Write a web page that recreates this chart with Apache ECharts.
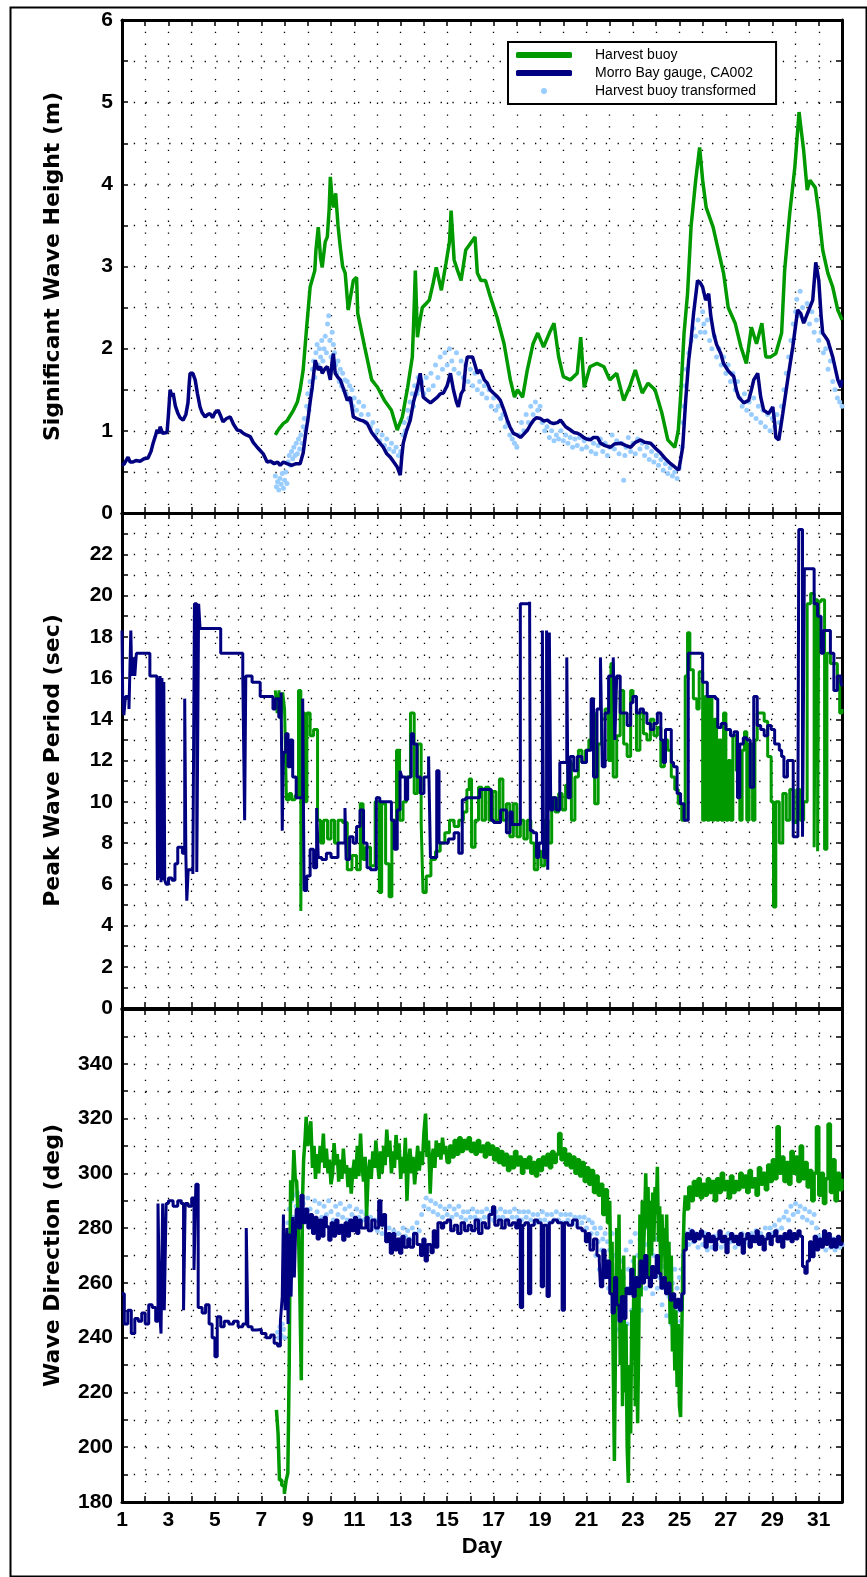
<!DOCTYPE html>
<html>
<head>
<meta charset="utf-8">
<title>Harvest buoy vs Morro Bay gauge</title>
<script src="https://cdn.jsdelivr.net/npm/echarts@6/dist/echarts.min.js"></script>
<style>
  html, body { margin: 0; padding: 0; background: #fff; }
  #chart { width: 867px; height: 1577px; }
</style>
</head>
<body>
<div id="chart"></div>
<script>
// series names as in the legend
const seriesNames = ['Harvest buoy', 'Morro Bay gauge, CA002', 'Harvest buoy transformed'];

// x axis: day of month, labels on odd days
const dayLabels = [1, 3, 5, 7, 9, 11, 13, 15, 17, 19, 21, 23, 25, 27, 29, 31];
// y tick labels of each panel
const hsLabels = [0, 1, 2, 3, 4, 5, 6];
const tpLabels = [0, 2, 4, 6, 8, 10, 12, 14, 16, 18, 20, 22];
const dirLabels = [180, 200, 220, 240, 260, 280, 300, 320, 340];

// --- significant wave height (m), [day, value] ---
const hsHarvest = [[7.6,0.95],[7.75,1.02],[7.95,1.09],[8.1,1.12],[8.38,1.25],[8.55,1.35],[8.67,1.5],[8.8,1.74],[8.95,2.26],[9.1,2.75],[9.3,2.95],[9.35,3.2],[9.45,3.48],[9.55,3.1],[9.62,2.99],[9.75,3.3],[9.84,3.36],[9.92,3.7],[9.97,4.09],[10.05,3.8],[10.1,3.72],[10.2,3.89],[10.3,3.5],[10.4,3.23],[10.5,3.0],[10.61,2.92],[10.74,2.47],[10.85,2.65],[10.96,2.83],[11.1,2.87],[11.15,2.43],[11.45,2.02],[11.75,1.62],[12.0,1.53],[12.3,1.37],[12.6,1.25],[12.85,1.01],[13.07,1.17],[13.3,1.53],[13.5,1.9],[13.55,2.26],[13.63,2.95],[13.72,2.14],[13.8,2.3],[13.93,2.5],[14.1,2.55],[14.23,2.59],[14.4,2.8],[14.53,2.99],[14.75,2.71],[14.95,3.04],[15.1,3.3],[15.17,3.68],[15.3,3.08],[15.45,2.95],[15.6,2.83],[15.8,3.2],[16.0,3.28],[16.2,3.36],[16.3,2.92],[16.45,2.83],[16.65,2.83],[16.86,2.63],[17.15,2.38],[17.45,2.06],[17.72,1.62],[17.9,1.41],[18.03,1.5],[18.25,1.41],[18.45,1.74],[18.7,2.06],[18.9,2.19],[19.15,2.02],[19.4,2.19],[19.6,2.31],[19.8,1.9],[20.0,1.66],[20.3,1.62],[20.6,1.7],[20.75,2.14],[20.9,1.53],[21.15,1.78],[21.45,1.82],[21.75,1.78],[22.0,1.62],[22.3,1.7],[22.6,1.37],[22.85,1.53],[23.1,1.74],[23.4,1.46],[23.65,1.58],[23.95,1.5],[24.25,1.21],[24.5,0.89],[24.8,0.8],[24.95,1.0],[25.05,1.41],[25.2,2.19],[25.35,2.67],[25.5,3.48],[25.7,4.05],[25.87,4.45],[26.0,4.05],[26.15,3.72],[26.45,3.48],[26.65,3.23],[26.9,2.92],[27.1,2.5],[27.4,2.31],[27.65,2.02],[27.88,1.82],[28.1,2.26],[28.32,2.06],[28.55,2.31],[28.72,1.9],[28.93,1.9],[29.15,1.94],[29.4,2.19],[29.53,2.95],[29.75,3.65],[29.97,4.21],[30.15,4.88],[30.35,4.41],[30.5,3.93],[30.62,4.05],[30.85,3.96],[31.0,3.65],[31.17,3.2],[31.39,2.92],[31.6,2.75],[31.82,2.47],[32.0,2.35]];

const hsMorro = [[1.0,0.58],[1.1,0.6],[1.26,0.68],[1.35,0.62],[1.47,0.62],[1.6,0.64],[1.78,0.63],[1.95,0.66],[2.12,0.67],[2.25,0.75],[2.34,0.85],[2.45,0.95],[2.51,1.01],[2.6,0.97],[2.64,1.05],[2.75,0.97],[2.94,0.98],[3.0,1.2],[3.07,1.5],[3.15,1.42],[3.2,1.46],[3.3,1.3],[3.41,1.21],[3.5,1.16],[3.63,1.13],[3.75,1.2],[3.84,1.34],[3.9,1.6],[3.93,1.7],[4.05,1.7],[4.15,1.62],[4.25,1.45],[4.36,1.29],[4.45,1.22],[4.58,1.17],[4.7,1.2],[4.79,1.21],[4.9,1.16],[5.0,1.22],[5.14,1.25],[5.25,1.18],[5.35,1.11],[5.5,1.15],[5.66,1.17],[5.8,1.08],[5.96,1.01],[6.1,1.0],[6.22,0.97],[6.35,0.95],[6.52,0.93],[6.65,0.86],[6.82,0.8],[6.95,0.76],[7.08,0.72],[7.25,0.62],[7.4,0.63],[7.55,0.6],[7.7,0.62],[7.81,0.58],[7.95,0.62],[8.11,0.6],[8.3,0.58],[8.5,0.6],[8.67,0.6],[8.8,0.73],[8.9,0.95],[9.02,1.17],[9.1,1.35],[9.19,1.53],[9.32,1.86],[9.45,1.74],[9.55,1.78],[9.62,1.7],[9.75,1.76],[9.84,1.78],[9.97,1.62],[10.05,1.85],[10.1,1.94],[10.18,1.7],[10.3,1.65],[10.4,1.62],[10.55,1.5],[10.7,1.37],[10.83,1.41],[10.96,1.17],[11.1,1.15],[11.26,1.13],[11.4,1.12],[11.56,1.09],[11.75,0.98],[11.99,0.89],[12.25,0.8],[12.4,0.72],[12.55,0.68],[12.7,0.62],[12.85,0.56],[12.98,0.46],[13.05,0.7],[13.11,0.85],[13.25,1.0],[13.41,1.13],[13.55,1.35],[13.72,1.53],[13.84,1.7],[13.97,1.41],[14.1,1.38],[14.28,1.34],[14.45,1.38],[14.58,1.41],[14.7,1.45],[14.84,1.46],[15.0,1.55],[15.14,1.7],[15.27,1.5],[15.4,1.35],[15.48,1.29],[15.6,1.45],[15.7,1.5],[15.8,1.8],[15.87,1.9],[16.09,1.9],[16.2,1.8],[16.3,1.7],[16.43,1.74],[16.6,1.62],[16.73,1.58],[16.85,1.5],[16.99,1.46],[17.15,1.42],[17.29,1.37],[17.45,1.25],[17.59,1.13],[17.7,1.05],[17.85,0.97],[18.0,0.95],[18.16,0.92],[18.3,0.96],[18.46,1.01],[18.6,1.08],[18.72,1.13],[18.85,1.16],[19.02,1.15],[19.15,1.12],[19.32,1.13],[19.45,1.1],[19.58,1.09],[19.75,1.1],[19.88,1.13],[20.1,1.05],[20.31,1.01],[20.45,0.98],[20.61,0.97],[20.75,0.95],[20.87,0.92],[21.0,0.9],[21.17,0.89],[21.3,0.92],[21.47,0.92],[21.6,0.85],[21.8,0.82],[22.03,0.8],[22.2,0.84],[22.47,0.85],[22.7,0.82],[22.9,0.8],[23.1,0.86],[23.33,0.89],[23.5,0.86],[23.76,0.85],[24.0,0.78],[24.19,0.73],[24.4,0.66],[24.62,0.6],[24.8,0.56],[24.97,0.52],[25.05,0.65],[25.14,0.8],[25.27,1.37],[25.4,1.86],[25.5,2.1],[25.61,2.43],[25.78,2.83],[25.9,2.8],[26.0,2.75],[26.13,2.59],[26.26,2.67],[26.35,2.4],[26.47,2.19],[26.6,2.05],[26.78,1.94],[26.9,1.82],[27.08,1.74],[27.2,1.7],[27.34,1.66],[27.45,1.5],[27.55,1.41],[27.77,1.34],[27.98,1.37],[28.1,1.5],[28.2,1.62],[28.37,1.7],[28.5,1.41],[28.63,1.25],[28.84,1.21],[29.02,1.29],[29.1,1.1],[29.15,0.92],[29.28,0.89],[29.45,1.21],[29.66,1.62],[29.88,2.02],[30.09,2.47],[30.22,2.43],[30.35,2.31],[30.57,2.47],[30.74,2.59],[30.87,3.05],[31.0,2.83],[31.1,2.4],[31.17,2.19],[31.39,2.1],[31.6,1.9],[31.82,1.62],[31.95,1.53],[32.0,1.62]];

const hsTransformed = [[7.6,0.45],[7.65,0.32],[7.7,0.38],[7.75,0.28],[7.8,0.42],[7.85,0.35],[7.9,0.48],[7.95,0.3],[8.0,0.4],[8.05,0.5],[8.1,0.36],[8.15,0.62],[8.2,0.7],[8.25,0.58],[8.3,0.75],[8.35,0.66],[8.4,0.8],[8.45,0.7],[8.5,0.85],[8.55,0.72],[8.6,0.9],[8.65,0.78],[8.7,0.95],[8.75,0.85],[8.8,1.05],[8.85,1.15],[8.9,1.0],[8.95,1.3],[9.0,1.45],[9.05,1.25],[9.1,1.6],[9.15,1.5],[9.2,1.75],[9.25,1.85],[9.3,1.65],[9.35,1.95],[9.4,2.05],[9.45,1.8],[9.5,2.0],[9.55,1.9],[9.6,2.1],[9.65,1.85],[9.7,2.0],[9.75,2.15],[9.8,1.95],[9.85,2.3],[9.9,2.4],[9.95,2.1],[10.0,1.9],[10.05,2.2],[10.1,2.05],[10.15,1.95],[10.2,1.8],[10.25,1.7],[10.3,1.85],[10.35,1.6],[10.4,1.75],[10.45,1.55],[10.5,1.7],[10.55,1.5],[10.6,1.62],[10.65,1.45],[10.7,1.6],[10.75,1.4],[10.8,1.55],[10.85,1.35],[10.9,1.5],[10.95,1.3],[11.0,1.4],[11.1,1.25],[11.2,1.35],[11.3,1.2],[11.4,1.3],[11.5,1.1],[11.6,1.2],[11.7,1.05],[11.8,1.1],[11.9,0.95],[12.0,1.0],[12.1,0.88],[12.2,0.95],[12.3,0.82],[12.4,0.9],[12.5,0.78],[12.6,0.85],[12.7,0.75],[12.8,0.8],[12.9,0.7],[13.0,0.75],[13.1,0.95],[13.15,1.1],[13.2,1.0],[13.3,1.25],[13.35,1.15],[13.4,1.35],[13.5,1.45],[13.55,1.3],[13.6,1.55],[13.7,1.45],[13.75,1.65],[13.8,1.5],[13.9,1.6],[14.0,1.45],[14.1,1.65],[14.2,1.5],[14.3,1.7],[14.4,1.55],[14.5,1.8],[14.6,1.65],[14.7,1.9],[14.8,1.75],[14.9,1.95],[15.0,1.8],[15.1,2.0],[15.2,1.85],[15.3,1.75],[15.4,1.95],[15.5,1.7],[15.6,1.85],[15.7,1.65],[15.8,1.8],[15.9,1.6],[16.0,1.75],[16.1,1.55],[16.2,1.7],[16.3,1.5],[16.4,1.6],[16.5,1.45],[16.6,1.55],[16.7,1.4],[16.8,1.5],[16.9,1.3],[17.0,1.4],[17.1,1.25],[17.2,1.3],[17.3,1.15],[17.4,1.2],[17.5,1.05],[17.6,1.1],[17.7,0.95],[17.8,0.9],[17.9,0.85],[18.0,0.8],[18.1,0.95],[18.2,1.1],[18.3,1.0],[18.4,1.2],[18.5,1.1],[18.6,1.3],[18.7,1.2],[18.8,1.35],[18.9,1.25],[19.0,1.3],[19.1,1.1],[19.2,1.0],[19.3,1.05],[19.4,0.92],[19.5,1.0],[19.6,0.88],[19.7,0.95],[19.8,0.9],[19.9,1.0],[20.0,0.88],[20.1,0.95],[20.2,0.85],[20.3,0.92],[20.4,0.8],[20.5,0.9],[20.6,0.82],[20.7,0.92],[20.8,0.78],[20.9,0.88],[21.0,0.8],[21.1,0.9],[21.2,0.75],[21.3,0.85],[21.4,0.72],[21.5,0.82],[21.6,0.9],[21.7,0.75],[21.8,0.85],[21.9,0.7],[22.0,0.8],[22.1,0.95],[22.2,0.78],[22.3,0.88],[22.4,0.72],[22.5,0.85],[22.6,0.4],[22.65,0.7],[22.7,0.8],[22.8,0.92],[22.9,0.75],[23.0,0.85],[23.1,0.72],[23.2,0.9],[23.3,0.78],[23.4,0.85],[23.5,0.7],[23.6,0.8],[23.7,0.65],[23.8,0.75],[23.9,0.62],[24.0,0.7],[24.1,0.58],[24.2,0.65],[24.3,0.52],[24.4,0.6],[24.5,0.48],[24.6,0.55],[24.7,0.45],[24.8,0.5],[24.9,0.42],[25.0,0.55],[25.1,0.8],[25.15,1.1],[25.2,1.3],[25.25,1.55],[25.3,1.75],[25.4,1.95],[25.5,2.1],[25.6,2.25],[25.7,2.15],[25.8,2.35],[25.9,2.2],[26.0,2.45],[26.05,2.3],[26.1,2.2],[26.2,2.35],[26.3,2.1],[26.4,2.0],[26.5,2.15],[26.6,1.9],[26.7,2.0],[26.8,1.8],[26.9,1.9],[27.0,1.7],[27.1,1.8],[27.2,1.6],[27.3,1.7],[27.4,1.5],[27.5,1.6],[27.6,1.4],[27.7,1.3],[27.8,1.45],[27.9,1.25],[28.0,1.35],[28.1,1.2],[28.2,1.4],[28.3,1.15],[28.4,1.3],[28.5,1.1],[28.6,1.25],[28.7,1.05],[28.8,1.2],[28.9,1.0],[29.0,1.15],[29.1,1.05],[29.2,1.2],[29.3,1.1],[29.4,1.3],[29.5,1.5],[29.6,1.7],[29.7,1.9],[29.8,2.1],[29.9,2.3],[30.0,2.45],[30.05,2.6],[30.1,2.4],[30.2,2.7],[30.3,2.5],[30.4,2.35],[30.5,2.55],[30.6,2.3],[30.7,2.45],[30.8,2.2],[30.9,2.35],[31.0,2.1],[31.1,2.2],[31.2,1.95],[31.3,2.0],[31.4,1.75],[31.5,1.85],[31.6,1.6],[31.7,1.5],[31.8,1.4],[31.9,1.35],[32.0,1.3]];

// --- peak wave period (sec), [day, value] ---
const tpHarvest = [[7.6,15.4],[7.68,14.3],[7.76,15.4],[7.84,14.0],[7.92,15.3],[8.0,14.5],[8.08,10.1],[8.2,10.4],[8.3,10.1],[8.45,10.3],[8.6,15.4],[8.7,4.7],[8.76,14.3],[8.86,10.0],[8.96,14.3],[9.1,13.2],[9.25,13.5],[9.42,9.1],[9.55,8.0],[9.68,9.1],[9.85,8.2],[10.0,9.1],[10.15,8.0],[10.3,9.1],[10.5,9.0],[10.7,6.7],[10.9,7.4],[11.1,6.7],[11.26,9.9],[11.38,7.2],[11.5,7.8],[11.7,6.9],[11.9,10.0],[12.08,5.6],[12.18,9.9],[12.35,7.0],[12.5,5.4],[12.62,9.1],[12.82,12.5],[12.95,9.1],[13.1,10.0],[13.25,11.2],[13.42,14.3],[13.58,10.4],[13.72,12.8],[13.88,9.0],[13.96,5.6],[14.1,6.4],[14.3,7.2],[14.5,7.6],[14.7,8.0],[14.9,8.5],[15.1,9.1],[15.3,8.8],[15.5,9.1],[15.7,9.5],[15.85,10.6],[15.95,11.1],[16.05,7.8],[16.2,9.1],[16.35,10.7],[16.5,9.1],[16.65,10.7],[16.8,9.1],[16.95,10.5],[17.1,9.1],[17.25,11.1],[17.4,9.1],[17.55,9.9],[17.7,8.3],[17.85,9.9],[18.0,8.3],[18.15,9.1],[18.3,8.2],[18.45,9.1],[18.6,8.0],[18.75,6.7],[18.9,7.6],[19.05,6.9],[19.2,9.1],[19.35,8.0],[19.5,10.2],[19.65,9.5],[19.8,10.4],[19.95,9.6],[20.1,10.8],[20.2,11.9],[20.35,9.1],[20.5,11.2],[20.65,12.5],[20.8,11.9],[20.95,12.5],[21.1,13.0],[21.2,14.3],[21.35,9.9],[21.5,12.8],[21.65,14.0],[21.8,14.5],[21.95,12.0],[22.05,16.7],[22.15,11.2],[22.3,13.2],[22.45,15.4],[22.6,12.8],[22.75,12.2],[22.9,15.4],[23.0,15.1],[23.15,12.5],[23.3,14.3],[23.45,13.3],[23.6,13.0],[23.75,14.0],[23.9,13.2],[24.05,13.6],[24.2,11.7],[24.35,13.0],[24.5,12.5],[24.65,11.2],[24.8,10.6],[24.95,9.9],[25.1,9.1],[25.25,16.1],[25.35,18.2],[25.45,16.4],[25.6,15.0],[25.75,14.5],[25.85,16.3],[26.0,9.1],[26.1,15.1],[26.2,9.1],[26.3,15.0],[26.4,9.1],[26.5,14.0],[26.6,9.1],[26.7,13.0],[26.8,9.1],[26.9,14.3],[27.0,9.1],[27.1,12.0],[27.2,9.1],[27.3,13.2],[27.45,11.5],[27.6,9.1],[27.7,12.5],[27.8,13.4],[27.9,9.1],[28.0,12.8],[28.15,9.1],[28.25,13.0],[28.35,14.3],[28.5,14.3],[28.65,13.9],[28.8,12.2],[28.95,10.0],[29.05,4.9],[29.15,10.0],[29.3,8.0],[29.45,10.4],[29.6,9.1],[29.75,10.6],[29.9,9.0],[30.05,10.6],[30.2,9.1],[30.35,10.0],[30.5,19.6],[30.65,20.1],[30.8,7.8],[30.86,19.8],[30.95,7.6],[31.0,19.7],[31.1,19.8],[31.25,7.7],[31.35,17.2],[31.5,16.7],[31.65,16.7],[31.8,16.0],[31.9,14.3],[32.0,14.5]];

const tpMorro = [[1.0,18.3],[1.03,15.1],[1.08,14.2],[1.15,15.1],[1.3,14.5],[1.38,18.3],[1.42,16.1],[1.48,17.0],[1.55,16.1],[1.62,17.2],[2.1,17.2],[2.2,16.1],[2.5,16.1],[2.53,6.2],[2.57,16.0],[2.6,6.3],[2.64,16.1],[2.68,6.1],[2.72,16.0],[2.76,6.2],[2.8,15.8],[2.84,6.2],[2.9,6.0],[3.0,6.3],[3.15,6.2],[3.28,7.0],[3.4,7.8],[3.6,7.5],[3.7,15.0],[3.75,7.4],[3.79,5.2],[3.85,6.7],[4.05,6.5],[4.12,19.6],[4.22,6.6],[4.3,19.6],[4.36,18.4],[5.25,17.2],[6.2,16.1],[6.28,9.1],[6.33,16.1],[6.6,15.8],[6.95,15.1],[7.5,14.5],[7.6,15.0],[7.75,14.1],[7.85,15.3],[7.9,8.6],[7.95,12.4],[8.05,13.3],[8.15,11.7],[8.25,13.0],[8.35,11.2],[8.5,10.2],[8.78,15.0],[8.84,5.7],[8.95,6.4],[9.1,7.7],[9.25,6.8],[9.38,9.7],[9.45,7.3],[9.6,7.2],[9.8,7.5],[10.0,7.3],[10.3,8.0],[10.6,9.7],[10.65,7.2],[10.8,8.3],[10.95,8.0],[11.1,8.8],[11.25,9.6],[11.4,8.0],[11.55,6.8],[11.7,6.7],[11.95,10.2],[12.1,10.0],[12.45,10.0],[12.6,9.1],[12.72,7.7],[12.85,9.6],[12.97,11.5],[13.05,11.2],[13.2,10.1],[13.3,11.2],[13.45,13.3],[13.55,12.8],[13.7,11.2],[13.85,10.4],[14.0,11.2],[14.2,12.2],[14.28,7.3],[14.45,7.3],[14.55,11.5],[14.65,8.0],[14.85,8.0],[15.05,8.2],[15.3,8.5],[15.5,7.5],[15.65,10.1],[15.8,10.2],[16.2,10.2],[16.4,10.6],[16.8,10.6],[16.9,9.1],[17.0,9.0],[17.3,9.6],[17.55,8.5],[17.7,9.5],[17.8,8.9],[18.15,19.6],[18.55,19.7],[18.58,8.6],[18.7,8.5],[18.85,7.3],[18.95,8.0],[19.1,18.3],[19.15,7.3],[19.28,18.3],[19.33,6.7],[19.4,18.2],[19.46,9.6],[19.55,10.2],[19.7,9.6],[19.85,11.9],[20.15,17.0],[20.2,10.2],[20.3,12.2],[20.45,11.5],[20.6,12.2],[20.8,11.9],[21.0,12.5],[21.2,15.0],[21.3,11.2],[21.45,14.5],[21.6,17.0],[21.68,11.7],[21.8,14.3],[21.95,16.1],[22.15,17.0],[22.22,13.0],[22.3,16.1],[22.45,14.3],[22.6,14.3],[22.75,13.7],[22.9,14.8],[23.0,15.1],[23.15,14.3],[23.3,14.5],[23.45,14.3],[23.6,13.8],[23.75,13.5],[23.9,13.8],[24.05,14.3],[24.2,13.0],[24.3,11.9],[24.4,13.5],[24.55,13.5],[24.65,11.9],[24.75,11.7],[24.9,10.4],[25.05,9.9],[25.2,9.1],[25.38,17.2],[26.0,15.8],[26.2,15.1],[26.55,15.0],[26.65,13.6],[26.8,13.8],[27.0,13.5],[27.2,13.2],[27.35,13.4],[27.5,10.2],[27.6,12.8],[27.75,13.1],[27.9,13.0],[28.05,10.7],[28.2,15.1],[28.35,13.7],[28.5,13.5],[28.65,13.2],[28.8,13.7],[28.95,13.5],[29.1,12.8],[29.3,12.5],[29.4,12.2],[29.5,11.2],[29.65,12.0],[29.8,12.0],[29.9,8.3],[30.1,8.5],[30.14,23.2],[30.3,8.3],[30.38,21.3],[30.65,21.3],[30.8,19.6],[30.95,19.0],[31.1,17.2],[31.2,18.3],[31.4,18.3],[31.5,17.2],[31.65,15.4],[31.8,16.1],[31.95,15.8],[32.0,15.6]];

// --- wave direction (deg), [day, value] ---
const dirHarvest = [[7.65,213.6],[7.72,205],[7.78,188],[7.88,186],[7.99,183],[8.07,188],[8.14,190.5],[8.2,230],[8.26,297.5],[8.33,290],[8.4,308.5],[8.46,298],[8.52,297],[8.58,285],[8.65,260],[8.72,224.5],[8.77,290],[8.82,305],[8.88,312],[8.93,320.6],[9.0,310],[9.07,315],[9.13,319],[9.2,302],[9.27,310],[9.33,298],[9.4,307],[9.47,300],[9.53,310],[9.6,304],[9.67,314.5],[9.73,302],[9.8,309],[9.87,300],[9.93,305],[10.0,296],[10.07,300],[10.13,311],[10.2,303],[10.27,307],[10.33,297],[10.4,305],[10.47,298],[10.53,309],[10.6,300],[10.67,303],[10.73,295],[10.8,302],[10.87,292.6],[10.93,300],[11.0,305],[11.07,298],[11.13,310],[11.2,299],[11.27,314.5],[11.33,303],[11.4,297],[11.47,306],[11.53,284],[11.6,300],[11.67,305],[11.73,298],[11.8,308],[11.87,302],[11.93,312],[12.0,304],[12.07,298],[12.13,308],[12.2,300],[12.27,310],[12.33,303],[12.4,316],[12.47,306],[12.53,312],[12.6,300],[12.67,308],[12.73,302],[12.8,314],[12.87,305],[12.93,311],[13.0,298],[13.07,306],[13.13,300],[13.2,313],[13.27,290],[13.33,304],[13.4,309],[13.47,300],[13.53,306],[13.6,296],[13.67,303],[13.73,310],[13.8,301],[13.87,308],[13.93,303],[14.0,315],[14.07,321.8],[14.13,306],[14.2,312],[14.27,292.6],[14.33,305],[14.4,309],[14.47,302],[14.53,312],[14.6,306],[14.67,311],[14.73,305],[14.8,313],[14.87,307],[14.93,310],[15.0,304],[15.1,310],[15.2,306],[15.3,312],[15.4,307],[15.5,313],[15.6,308],[15.7,312],[15.8,309],[15.9,313],[16.0,308],[16.1,311],[16.2,307],[16.3,312],[16.4,308],[16.5,310],[16.6,306],[16.7,311],[16.8,307],[16.9,310],[17.0,305],[17.1,309],[17.2,304],[17.3,308],[17.4,303],[17.5,307],[17.6,301],[17.7,306],[17.8,302],[17.9,308],[18.0,303],[18.1,306],[18.2,300],[18.3,305],[18.4,302],[18.5,306],[18.6,300],[18.7,304],[18.8,299],[18.9,305],[19.0,301],[19.1,306],[19.2,303],[19.3,307],[19.4,302],[19.5,308],[19.6,304],[19.7,307],[19.8,314.5],[19.9,305],[20.0,309],[20.1,303],[20.2,307],[20.3,302],[20.4,306],[20.5,300],[20.6,305],[20.7,299],[20.8,304],[20.9,297],[21.0,302],[21.1,296],[21.2,301],[21.3,293],[21.4,299],[21.5,292],[21.6,296],[21.7,285],[21.8,294],[21.9,282],[22.0,290],[22.05,260],[22.1,275],[22.15,230],[22.2,195],[22.25,240],[22.3,280],[22.35,250],[22.4,285],[22.45,230],[22.5,265],[22.55,215],[22.6,270],[22.65,220],[22.7,245],[22.75,200],[22.8,187],[22.85,230],[22.9,205],[22.95,250],[23.0,232],[23.05,270],[23.1,215],[23.15,260],[23.2,208.8],[23.25,240],[23.3,285],[23.35,255],[23.4,290],[23.45,270],[23.5,283],[23.55,300],[23.6,280],[23.65,295],[23.7,262],[23.75,290],[23.8,270],[23.85,293],[23.9,275],[23.95,295],[24.0,285],[24.05,302.4],[24.1,275],[24.15,288],[24.2,262],[24.25,285],[24.3,270],[24.35,280],[24.4,258],[24.45,285],[24.5,260],[24.55,275],[24.6,245],[24.65,270],[24.7,235],[24.75,255],[24.8,228],[24.85,250],[24.9,222],[24.95,245],[25.0,215],[25.05,211],[25.1,240],[25.15,268],[25.2,285],[25.25,292],[25.3,287],[25.4,295],[25.5,290],[25.6,297],[25.7,292],[25.8,298],[25.9,291],[26.0,296],[26.1,292],[26.2,298],[26.3,293],[26.4,297],[26.5,290],[26.6,298],[26.7,293],[26.8,300],[26.9,294],[27.0,297],[27.1,291],[27.2,299],[27.3,293],[27.4,297],[27.5,294],[27.6,300],[27.7,295],[27.8,299],[27.9,293],[28.0,301],[28.1,295],[28.2,298],[28.3,292],[28.4,302],[28.5,296],[28.6,300],[28.7,294],[28.8,303],[28.9,297],[29.0,305],[29.1,298],[29.2,317],[29.3,300],[29.4,306],[29.5,297],[29.6,304],[29.7,296],[29.8,308],[29.9,300],[30.0,306],[30.1,297],[30.2,310],[30.3,298],[30.4,304],[30.5,295],[30.6,301],[30.7,290],[30.8,300],[30.9,317],[31.0,292],[31.1,300],[31.2,289],[31.3,298],[31.4,318],[31.5,293],[31.6,305],[31.7,290],[31.8,300],[31.9,294],[32.0,298]];

const dirMorro = [[1.0,256],[1.1,245],[1.25,250],[1.4,241.5],[1.55,247],[1.7,246],[1.85,249],[2.0,245],[2.15,252],[2.3,251],[2.45,246],[2.55,289],[2.62,250],[2.68,241.5],[2.75,289],[2.82,250],[2.9,289],[3.0,290],[3.2,288],[3.4,290],[3.55,289],[3.65,250],[3.72,289],[3.85,288],[4.0,291],[4.1,264.7],[4.18,296],[4.28,251],[4.45,249],[4.6,252],[4.75,245],[4.88,240],[5.0,233],[5.1,247.6],[5.25,244],[5.4,246],[5.6,245],[5.8,246],[6.0,244],[6.2,245],[6.35,280],[6.42,244],[6.6,242.8],[6.8,243],[7.0,241.5],[7.2,240],[7.4,241],[7.55,238],[7.7,237],[7.82,246],[7.9,255],[7.95,285],[8.02,250],[8.1,280],[8.15,245],[8.2,278],[8.28,255],[8.35,284],[8.42,262],[8.5,287],[8.6,280],[8.7,292],[8.8,282],[8.9,287],[9.0,280],[9.1,285],[9.2,278],[9.3,284],[9.4,276],[9.5,283],[9.6,277],[9.7,284],[9.8,280.5],[9.9,275.6],[10.0,282],[10.1,277],[10.2,283],[10.3,278],[10.4,281],[10.5,275.6],[10.6,282],[10.7,277],[10.8,283],[10.9,279],[11.0,284],[11.1,278],[11.2,283],[11.3,280],[11.5,284],[11.6,279],[11.75,283],[11.9,280],[12.05,290],[12.15,281],[12.25,285],[12.35,275],[12.45,278],[12.55,270.8],[12.65,278],[12.75,272],[12.85,276],[12.95,270.8],[13.05,277],[13.15,273],[13.3,276],[13.4,273],[13.55,278],[13.7,274],[13.85,270],[13.95,276],[14.05,268],[14.15,274],[14.3,271],[14.4,279],[14.5,273],[14.6,282],[14.75,280],[14.85,282],[15.0,283],[15.15,279],[15.3,281],[15.45,278],[15.6,282],[15.75,279],[15.9,281],[16.05,279],[16.2,283],[16.35,278],[16.5,282],[16.65,280],[16.8,285],[16.95,287.8],[17.05,281],[17.2,283],[17.35,280],[17.5,283],[17.65,281],[17.8,282],[17.95,280],[18.05,283],[18.15,251],[18.25,281],[18.35,282],[18.5,256],[18.6,281],[18.75,283],[18.9,282],[19.05,258.6],[19.15,281],[19.3,255],[19.4,282],[19.55,283],[19.75,282],[19.95,250],[20.05,282],[20.2,281],[20.4,283],[20.6,280],[20.8,279],[20.95,275],[21.05,278],[21.15,272],[21.3,276],[21.45,270],[21.55,268],[21.6,258.6],[21.7,272],[21.8,262],[21.9,268],[22.0,256],[22.1,249],[22.2,262],[22.3,252],[22.4,246],[22.5,255],[22.6,247],[22.7,258],[22.8,256],[22.9,265],[23.0,255],[23.1,262],[23.2,258.6],[23.3,268],[23.4,260],[23.5,270],[23.6,262],[23.7,258.6],[23.8,266],[23.9,262],[24.0,270],[24.1,263.5],[24.2,258],[24.3,262],[24.4,256],[24.5,260],[24.6,253.7],[24.7,256],[24.8,251],[24.9,254],[25.0,250],[25.1,256],[25.2,272],[25.3,278],[25.4,276],[25.5,279],[25.6,275],[25.7,278],[25.8,276],[25.9,279],[26.0,277],[26.1,273],[26.2,278],[26.3,275],[26.4,277],[26.5,272],[26.6,276],[26.7,279],[26.8,275],[26.9,277],[27.0,271],[27.1,276],[27.2,278],[27.3,275],[27.4,277],[27.5,274],[27.6,278],[27.7,270.8],[27.8,276],[27.9,278],[28.0,273],[28.1,277],[28.2,275],[28.3,279],[28.4,274],[28.5,277],[28.6,272],[28.7,276],[28.8,278],[28.9,274],[29.0,277],[29.1,279],[29.2,275],[29.3,277],[29.4,273],[29.5,278],[29.6,276],[29.7,279],[29.8,275],[29.9,278],[30.0,276],[30.1,279],[30.2,277],[30.3,266],[30.4,263.5],[30.5,268],[30.6,275],[30.7,269.5],[30.8,277],[30.9,272],[31.0,276],[31.1,273],[31.2,279],[31.3,274],[31.4,278],[31.5,273],[31.6,276],[31.7,273],[31.8,277],[31.9,274],[32.0,275]];

const dirTransformed = [[7.7,242],[7.75,240],[7.8,244],[7.85,241],[7.9,245],[7.95,243],[8.0,240],[8.1,270],[8.15,282],[8.2,287],[8.25,278],[8.3,290],[8.35,284],[8.4,292],[8.45,281],[8.5,288],[8.55,293],[8.6,285],[8.65,290],[8.7,286],[8.8,289],[8.9,285],[9.0,291],[9.1,287],[9.2,284],[9.3,290],[9.4,286],[9.5,289],[9.6,284],[9.7,288],[9.8,285],[9.9,290],[10.0,286],[10.1,283],[10.2,288],[10.3,285],[10.4,289],[10.5,284],[10.6,287],[10.7,283],[10.8,288],[10.9,285],[11.0,282],[11.1,287],[11.2,284],[11.3,286],[11.4,283],[11.5,285],[11.6,281],[11.7,284],[11.8,280],[11.9,283],[12.0,279],[12.1,282],[12.2,278],[12.3,281],[12.4,277],[12.5,280],[12.6,276],[12.7,279],[12.8,275],[12.9,278],[13.0,276],[13.1,280],[13.2,277],[13.3,279],[13.4,276],[13.5,280],[13.6,278],[13.7,282],[13.8,279],[13.9,285],[14.0,288],[14.1,291],[14.2,287],[14.3,290],[14.4,286],[14.5,289],[14.6,285],[14.7,288],[14.8,284],[14.9,287],[15.0,285],[15.1,288],[15.2,284],[15.3,287],[15.4,285],[15.5,288],[15.6,284],[15.7,286],[15.8,283],[15.9,286],[16.0,284],[16.1,287],[16.2,284],[16.3,286],[16.4,283],[16.5,286],[16.6,284],[16.7,287],[16.8,284],[16.9,286],[17.0,283],[17.1,286],[17.2,284],[17.3,287],[17.4,284],[17.5,286],[17.6,283],[17.7,286],[17.8,284],[17.9,287],[18.0,284],[18.1,286],[18.2,283],[18.3,286],[18.4,284],[18.5,286],[18.6,283],[18.7,285],[18.8,282],[18.9,285],[19.0,283],[19.1,286],[19.2,283],[19.3,285],[19.4,282],[19.5,285],[19.6,283],[19.7,286],[19.8,283],[19.9,285],[20.0,282],[20.1,285],[20.2,283],[20.3,285],[20.4,282],[20.5,284],[20.6,281],[20.7,284],[20.8,282],[20.9,284],[21.0,280],[21.1,283],[21.2,278],[21.25,282],[21.3,274],[21.35,280],[21.4,270],[21.45,278],[21.5,275],[21.55,265],[21.6,280],[21.65,272],[21.7,276],[21.75,262],[21.8,278],[21.85,268],[21.9,275],[21.95,258],[22.0,272],[22.05,265],[22.1,278],[22.15,255],[22.2,270],[22.25,248],[22.3,262],[22.35,275],[22.4,243],[22.45,258],[22.5,268],[22.55,240],[22.6,262],[22.65,252],[22.7,272],[22.75,245],[22.8,265],[22.85,258],[22.9,275],[22.95,250],[23.0,268],[23.05,260],[23.1,278],[23.15,255],[23.2,270],[23.25,262],[23.3,276],[23.35,250],[23.4,272],[23.45,265],[23.5,280],[23.55,258],[23.6,274],[23.65,268],[23.7,278],[23.75,262],[23.8,272],[23.85,256],[23.9,270],[23.95,265],[24.0,276],[24.05,258],[24.1,268],[24.15,262],[24.2,274],[24.25,252],[24.3,266],[24.35,258],[24.4,270],[24.45,248],[24.5,262],[24.55,255],[24.6,268],[24.65,245],[24.7,260],[24.75,252],[24.8,265],[24.85,242],[24.9,258],[24.95,250],[25.0,262],[25.05,246],[25.1,265],[25.15,270],[25.2,276],[25.3,278],[25.4,274],[25.5,279],[25.6,275],[25.7,278],[25.8,273],[25.9,277],[26.0,274],[26.1,278],[26.2,272],[26.3,276],[26.4,273],[26.5,277],[26.6,274],[26.7,278],[26.8,273],[26.9,276],[27.0,274],[27.1,278],[27.2,275],[27.3,277],[27.4,273],[27.5,276],[27.6,274],[27.7,278],[27.8,275],[27.9,277],[28.0,274],[28.1,278],[28.2,276],[28.3,279],[28.4,275],[28.5,278],[28.6,276],[28.7,280],[28.8,277],[28.9,280],[29.0,278],[29.1,281],[29.2,279],[29.3,283],[29.4,280],[29.5,284],[29.6,286],[29.7,283],[29.8,288],[29.9,285],[30.0,289],[30.1,286],[30.2,288],[30.3,284],[30.4,287],[30.5,283],[30.6,286],[30.7,282],[30.8,285],[30.9,280],[31.0,277],[31.1,274],[31.2,276],[31.3,272],[31.4,275],[31.5,273],[31.6,276],[31.7,272],[31.8,275],[31.9,273],[32.0,274]];

const GREEN = '#009900';
const NAVY = '#000080';
const LIGHT = '#99ccff';

const chart = echarts.init(document.getElementById('chart'), null, { renderer: 'canvas' });

const dotted = { show: true, lineStyle: { color: '#000', width: 1.3, type: [1.3, 10.5] } };
const frameLine = { show: true, onZero: false, lineStyle: { color: '#000', width: 3 } };
const innerTick = { show: true, inside: true, length: 6, lineStyle: { color: '#000', width: 1.5 } };
const tickFont = { color: '#000', fontSize: 21, fontWeight: 'bold', fontFamily: 'Liberation Sans, Arial, sans-serif' };
const titleFont = { color: '#000', fontSize: 22, fontWeight: 'bold', fontFamily: 'DejaVu Sans, sans-serif' };

// each panel: bottom + top x axis, left + right y axis
function xPair(grid, withLabels) {
    return [
        {
            type: 'value', gridIndex: grid, min: 1, max: 32, interval: 1, position: 'bottom',
            axisLine: frameLine, axisTick: innerTick, splitLine: dotted,
            axisLabel: withLabels ? Object.assign({
                margin: 8,
                formatter: v => dayLabels.indexOf(v) >= 0 ? String(v) : ''
            }, tickFont) : { show: false },
            name: withLabels ? 'Day' : '',
            nameLocation: 'middle', nameGap: 34,
            nameTextStyle: { color: '#000', fontSize: 22, fontWeight: 'bold', fontFamily: 'Liberation Sans, Arial, sans-serif' }
        },
        {
            type: 'value', gridIndex: grid, min: 1, max: 32, interval: 1, position: 'top',
            axisLine: frameLine, axisTick: innerTick, splitLine: { show: false }, axisLabel: { show: false }
        }
    ];
}

function yPair(grid, min, max, step, labels, title) {
    return [
        {
            type: 'value', gridIndex: grid, min: min, max: max, interval: step, position: 'left',
            axisLine: frameLine, axisTick: innerTick, splitLine: dotted,
            axisLabel: Object.assign({
                margin: 9,
                formatter: v => labels.indexOf(v) >= 0 ? String(v) : ''
            }, tickFont),
            name: title, nameLocation: 'middle', nameGap: 58, nameRotate: 90,
            nameTextStyle: titleFont
        },
        {
            type: 'value', gridIndex: grid, min: min, max: max, interval: step, position: 'right',
            axisLine: frameLine, axisTick: innerTick, splitLine: { show: false }, axisLabel: { show: false }
        }
    ];
}

function lineSeries(name, data, color, panel, width, step) {
    return {
        name: name, type: 'line', data: data, color: color,
        xAxisIndex: panel * 2, yAxisIndex: panel * 2,
        showSymbol: false, symbol: 'none', step: step || false,
        lineStyle: { width: width, color: color },
        silent: true
    };
}

function dotSeries(name, data, panel) {
    return {
        name: name, type: 'scatter', data: data, color: LIGHT,
        xAxisIndex: panel * 2, yAxisIndex: panel * 2,
        symbol: 'circle', symbolSize: 5,
        itemStyle: { color: LIGHT, opacity: 1 },
        silent: true
    };
}

chart.setOption({
    animation: false,
    backgroundColor: '#fff',
    grid: [
        { left: 122, top: 20, width: 720, height: 493 },
        { left: 122, top: 513, width: 720, height: 495 },
        { left: 122, top: 1009, width: 720, height: 493 }
    ],
    xAxis: [].concat(xPair(0, false), xPair(1, false), xPair(2, true)),
    yAxis: [].concat(
        yPair(0, 0, 6, 0.5, hsLabels, 'Significant Wave Height (m)'),
        yPair(1, 0, 24, 1, tpLabels, 'Peak Wave Period (sec)'),
        yPair(2, 180, 360, 10, dirLabels, 'Wave Direction (deg)')
    ),
    legend: {
        left: 508, top: 42, orient: 'vertical',
        padding: [6, 20, 6, 8], itemGap: 4,
        itemWidth: 56, itemHeight: 6,
        backgroundColor: '#fff', borderColor: '#000', borderWidth: 2,
        selectedMode: false,
        textStyle: { color: '#000', fontSize: 14, fontFamily: 'Liberation Sans, Arial, sans-serif', padding: [0, 0, 0, 18] },
        data: [
            { name: seriesNames[0], icon: 'roundRect' },
            { name: seriesNames[1], icon: 'roundRect' },
            { name: seriesNames[2], icon: 'circle' }
        ]
    },
    graphic: [{
        type: 'rect', left: 8, top: 5, z: 100, silent: true,
        shape: { width: 856, height: 1569 },
        style: { fill: null, stroke: '#000', lineWidth: 2 }
    }],
    series: [
        lineSeries(seriesNames[0], hsHarvest, GREEN, 0, 3.5),
        lineSeries(seriesNames[1], hsMorro, NAVY, 0, 3.5),
        dotSeries(seriesNames[2], hsTransformed, 0),
        lineSeries(seriesNames[0], tpHarvest, GREEN, 1, 3, 'end'),
        lineSeries(seriesNames[1], tpMorro, NAVY, 1, 3, 'end'),
        lineSeries(seriesNames[0], dirHarvest, GREEN, 2, 3.5, 'end'),
        lineSeries(seriesNames[1], dirMorro, NAVY, 2, 3, 'end'),
        dotSeries(seriesNames[2], dirTransformed, 2)
    ]
});
</script>
</body>
</html>
